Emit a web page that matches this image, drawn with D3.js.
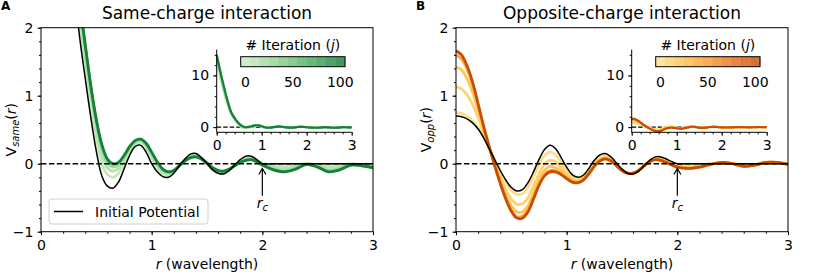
<!DOCTYPE html>
<html>
<head>
<meta charset="utf-8">
<script src="https://cdn.jsdelivr.net/npm/d3@7"></script>
<style>
  body { margin: 0; background: #fff; }
  svg { font-family: "DejaVu Sans", sans-serif; }
</style>
</head>
<body>
<svg id="chart" width="830" height="280"></svg>
<script>
// r in wavelengths, sampled every 0.05 up to r_c and every 0.1 after
const radius = [0,0.05,0.1,0.15,0.2,0.25,0.3,0.35,0.4,0.45,0.5,0.55,0.6,0.65,0.7,0.75,0.8,0.85,0.9,0.95,
  1.0,1.05,1.1,1.15,1.2,1.25,1.3,1.35,1.4,1.45,1.5,1.55,1.6,1.65,1.7,1.75,1.8,1.85,1.9,1.95,
  2.0,2.1,2.2,2.3,2.4,2.5,2.6,2.7,2.8,2.9,3.0];

const iterations = [0, 10, 20, 40, 100];
const colorbarSteps = [0, 10, 20, 30, 40, 50, 60, 70, 80, 90, 100];
const colorbarTicks = [0, 50, 100];

// same-charge potential
const sameInitial = [13.2,11.1,9.1,7.2,5.4,3.8,2.6,1.85,1.25,0.68,0.18,-0.18,-0.33,-0.36,-0.27,-0.08,0.12,0.25,0.27,0.17,
  0.0,-0.12,-0.19,-0.20,-0.14,-0.03,0.07,0.14,0.15,0.09,0.0,-0.09,-0.14,-0.15,-0.10,-0.02,0.06,0.11,0.11,0.06,
  0.0,0,0,0,0,0,0,0,0,0,0];
const sameJ0 = [12.5,10.5,8.7,7.0,5.4,4.0,2.85,2.05,1.42,0.85,0.36,0.0,-0.16,-0.20,-0.14,0.0,0.16,0.27,0.30,0.22,
  0.08,-0.06,-0.15,-0.17,-0.12,-0.03,0.06,0.11,0.13,0.08,0.0,-0.08,-0.13,-0.14,-0.10,-0.03,0.04,0.08,0.09,0.05,
  0.01,-0.02,-0.03,-0.01,0.0,-0.01,-0.03,-0.02,0.0,-0.01,-0.01];
const sameJ10 = [13.2,11.2,9.3,7.5,5.85,4.35,3.1,2.2,1.57,0.99,0.49,0.13,-0.06,-0.11,-0.07,0.05,0.20,0.30,0.33,0.26,
  0.12,-0.02,-0.12,-0.15,-0.11,-0.03,0.05,0.10,0.12,0.075,0.0,-0.07,-0.12,-0.13,-0.09,-0.03,0.03,0.065,0.075,0.04,
  0.0,-0.05,-0.07,-0.04,0.0,-0.03,-0.07,-0.05,-0.01,-0.02,-0.03];
const sameJ20 = [13.6,11.6,9.7,7.9,6.15,4.6,3.26,2.31,1.67,1.08,0.58,0.21,0.01,-0.05,-0.02,0.09,0.23,0.32,0.35,0.28,
  0.15,0.01,-0.10,-0.13,-0.10,-0.03,0.045,0.095,0.11,0.07,0.01,-0.065,-0.11,-0.12,-0.085,-0.03,0.025,0.06,0.07,0.035,
  -0.01,-0.07,-0.10,-0.06,-0.01,-0.04,-0.10,-0.07,-0.015,-0.025,-0.05];
const sameJ40 = [13.9,11.9,9.9,8.1,6.3,4.75,3.36,2.38,1.73,1.13,0.63,0.26,0.05,-0.01,0.01,0.11,0.24,0.34,0.36,0.29,
  0.16,0.02,-0.09,-0.12,-0.10,-0.03,0.04,0.09,0.10,0.07,0.01,-0.06,-0.10,-0.11,-0.08,-0.03,0.02,0.05,0.06,0.03,
  -0.02,-0.085,-0.115,-0.075,-0.01,-0.05,-0.115,-0.085,-0.02,-0.03,-0.055];
const sameJ100 = [14.0,12.0,10.0,8.2,6.4,4.8,3.4,2.4,1.75,1.15,0.65,0.28,0.07,0.0,0.02,0.12,0.25,0.34,0.36,0.30,
  0.17,0.03,-0.08,-0.12,-0.10,-0.03,0.04,0.09,0.10,0.07,0.01,-0.06,-0.10,-0.11,-0.08,-0.03,0.02,0.05,0.06,0.03,
  -0.02,-0.09,-0.12,-0.08,-0.01,-0.05,-0.12,-0.09,-0.02,-0.03,-0.06];

// opposite-charge potential
const oppInitial = [0.70,0.69,0.66,0.60,0.51,0.38,0.22,0.06,-0.10,-0.24,-0.35,-0.40,-0.38,-0.28,-0.12,0.06,0.21,0.27,0.22,0.09,
  -0.05,-0.16,-0.20,-0.17,-0.07,0.05,0.13,0.15,0.10,0.01,-0.08,-0.14,-0.15,-0.11,-0.03,0.05,0.10,0.10,0.07,0.03,
  0.0,0,0,0,0,0,0,0,0,0,0];
const oppJ0 = [0.75,0.74,0.70,0.63,0.53,0.39,0.22,0.05,-0.12,-0.27,-0.39,-0.45,-0.44,-0.35,-0.19,-0.02,0.12,0.17,0.13,0.02,
  -0.10,-0.19,-0.22,-0.18,-0.09,0.02,0.10,0.12,0.08,0.0,-0.09,-0.14,-0.14,-0.10,-0.03,0.04,0.08,0.08,0.05,0.01,
  -0.02,-0.03,-0.02,0.0,0.01,0.0,-0.01,-0.01,0.01,0.01,0.0];
const oppJ10 = [1.13,1.10,1.01,0.87,0.68,0.46,0.23,0.02,-0.19,-0.38,-0.52,-0.60,-0.59,-0.50,-0.33,-0.15,-0.01,0.05,0.03,-0.06,
  -0.15,-0.22,-0.25,-0.21,-0.12,-0.01,0.07,0.10,0.06,-0.01,-0.09,-0.14,-0.14,-0.10,-0.03,0.04,0.07,0.07,0.04,0.0,
  -0.03,-0.05,-0.03,0.0,0.01,0.0,-0.02,-0.01,0.01,0.01,0.0];
const oppJ20 = [1.42,1.38,1.25,1.05,0.79,0.51,0.24,-0.01,-0.25,-0.46,-0.62,-0.71,-0.71,-0.62,-0.43,-0.24,-0.10,-0.04,-0.06,-0.11,
  -0.19,-0.25,-0.26,-0.22,-0.13,-0.02,0.06,0.08,0.05,-0.02,-0.10,-0.14,-0.14,-0.10,-0.03,0.03,0.065,0.06,0.03,-0.01,
  -0.04,-0.06,-0.04,-0.01,0.02,0.0,-0.03,-0.02,0.02,0.02,-0.01];
const oppJ40 = [1.60,1.54,1.39,1.16,0.86,0.54,0.25,-0.02,-0.28,-0.50,-0.68,-0.78,-0.77,-0.68,-0.50,-0.30,-0.16,-0.10,-0.10,-0.15,
  -0.21,-0.26,-0.28,-0.24,-0.15,-0.04,0.04,0.07,0.04,-0.03,-0.10,-0.14,-0.14,-0.10,-0.03,0.03,0.06,0.05,0.02,-0.02,
  -0.05,-0.07,-0.05,-0.01,0.02,0.0,-0.04,-0.02,0.02,0.02,-0.01];
const oppJ100 = [1.66,1.60,1.44,1.20,0.88,0.55,0.25,-0.03,-0.29,-0.52,-0.70,-0.80,-0.80,-0.71,-0.52,-0.32,-0.18,-0.12,-0.12,-0.16,
  -0.22,-0.27,-0.28,-0.24,-0.15,-0.04,0.04,0.07,0.04,-0.03,-0.10,-0.14,-0.14,-0.10,-0.03,0.03,0.06,0.05,0.02,-0.02,
  -0.05,-0.07,-0.05,-0.01,0.02,0.0,-0.04,-0.02,0.02,0.02,-0.01];

const xTicks = [0, 1, 2, 3];
const yTicks = [-1, 0, 1, 2];
const insetYTicks = [0, 10];
const cutoff = 2;

const svg = d3.select("#chart");
const font = "DejaVu Sans";

function drawPanel(cfg) {
  const g = svg.append("g").attr("transform", `translate(${cfg.dx},0)`);

  let x = d3.scaleLinear().domain([0, 3]).range([41, 373]);
  let y = d3.scaleLinear().domain([-1, 2]).range([231.7, 27.7]);

  g.append("clipPath").attr("id", "clip" + cfg.id)
    .append("rect")
      .attr("x", x(0)).attr("y", y(2))
      .attr("width", x(3) - x(0)).attr("height", y(-1) - y(2));

  let line = d3.line()
    .x((d, i) => x(radius[i]))
    .y(d => y(d))
    .curve(d3.curveCatmullRom);

  let plot = g.append("g").attr("clip-path", `url(#clip${cfg.id})`);

  cfg.curves.forEach((vals, k) => {
    plot.append("path")
      .attr("d", line(vals))
      .attr("fill", "none")
      .attr("stroke", cfg.color(iterations[k]))
      .attr("stroke-width", 2.8)
      .attr("stroke-linejoin", "round");
  });

  plot.append("line")
    .attr("x1", x(0)).attr("x2", x(3))
    .attr("y1", y(0)).attr("y2", y(0))
    .attr("stroke", "#000").attr("stroke-width", 1.4)
    .attr("stroke-dasharray", "5.5,2.4");

  plot.append("path")
    .attr("d", line(cfg.initial))
    .attr("fill", "none")
    .attr("stroke", "#000")
    .attr("stroke-width", 1.5);

  // axes
  g.append("g")
    .attr("transform", `translate(0,${y(-1)})`)
    .call(d3.axisBottom(x).tickValues(d3.range(0, 3.01, 0.2)).tickSize(2).tickFormat(""))
    .call(a => a.select(".domain").remove());
  g.append("g")
    .attr("transform", `translate(0,${y(-1)})`)
    .call(d3.axisBottom(x).tickValues(xTicks).tickSize(3.5).tickPadding(4.5).tickFormat(d3.format("d")))
    .attr("font-size", 14).attr("font-family", font)
    .call(a => a.select(".domain").remove());
  g.append("g")
    .attr("transform", `translate(${x(0)},0)`)
    .call(d3.axisLeft(y).tickValues(d3.range(-1, 2.01, 0.2)).tickSize(2).tickFormat(""))
    .call(a => a.select(".domain").remove());
  g.append("g")
    .attr("transform", `translate(${x(0)},0)`)
    .call(d3.axisLeft(y).tickValues(yTicks).tickSize(3.5).tickPadding(4).tickFormat(d3.format("d")))
    .attr("font-size", 14).attr("font-family", font)
    .call(a => a.select(".domain").remove());

  g.append("rect")
    .attr("x", x(0)).attr("y", y(2))
    .attr("width", x(3) - x(0)).attr("height", y(-1) - y(2))
    .attr("fill", "none").attr("stroke", "#000").attr("stroke-width", 1);

  // titles and labels
  g.append("text")
    .attr("x", (x(0) + x(3)) / 2).attr("y", 19)
    .attr("text-anchor", "middle").attr("font-size", 17)
    .text(cfg.title);

  g.append("text")
    .attr("x", 1).attr("y", 10)
    .attr("font-size", 12).attr("font-weight", "bold")
    .text(cfg.letter);

  let xl = g.append("text")
    .attr("x", (x(0) + x(3)) / 2).attr("y", 269)
    .attr("text-anchor", "middle").attr("font-size", 14);
  xl.append("tspan").attr("font-style", "italic").text("r");
  xl.append("tspan").text(" (wavelength)");

  let yl = g.append("text")
    .attr("transform", `translate(16,${(y(-1) + y(2)) / 2}) rotate(-90)`)
    .attr("text-anchor", "middle").attr("font-size", 14);
  yl.append("tspan").text("V");
  yl.append("tspan").attr("font-style", "italic").attr("font-size", 10).attr("dy", 3).text(cfg.sub);
  yl.append("tspan").attr("dy", -3).text("(");
  yl.append("tspan").attr("font-style", "italic").text("r");
  yl.append("tspan").text(")");

  // arrow to r_c
  let ax = x(cutoff), tip = y(-0.07), tail = y(-0.47);
  g.append("line")
    .attr("x1", ax).attr("x2", ax).attr("y1", tail).attr("y2", tip)
    .attr("stroke", "#000").attr("stroke-width", 1.2);
  g.append("path")
    .attr("d", `M${ax - 3.5},${tip + 6}L${ax},${tip}L${ax + 3.5},${tip + 6}`)
    .attr("fill", "none").attr("stroke", "#000").attr("stroke-width", 1.2);
  let rc = g.append("text")
    .attr("x", ax).attr("y", 208)
    .attr("text-anchor", "middle").attr("font-size", 14).attr("font-style", "italic");
  rc.append("tspan").text("r");
  rc.append("tspan").attr("font-size", 10).attr("dy", 3).text("c");

  // inset
  let ix = d3.scaleLinear().domain([0, 3]).range([216.7, 351.7]);
  let iy = d3.scaleLinear().domain([-1, 15]).range([132.3, 49.6]);
  let iline = d3.line()
    .x((d, i) => ix(radius[i]))
    .y(d => iy(d))
    .curve(d3.curveCatmullRom);

  let inset = g.append("g");
  inset.append("line")
    .attr("x1", ix(0)).attr("x2", ix(3))
    .attr("y1", iy(0)).attr("y2", iy(0))
    .attr("stroke", "#000").attr("stroke-width", 1.2)
    .attr("stroke-dasharray", "4.5,2");
  cfg.curves.forEach((vals, k) => {
    inset.append("path")
      .attr("d", iline(vals))
      .attr("fill", "none")
      .attr("stroke", cfg.color(iterations[k]))
      .attr("stroke-width", 2.2)
      .attr("stroke-linejoin", "round");
  });

  inset.append("g")
    .attr("transform", `translate(0,${iy(-1)})`)
    .call(d3.axisBottom(ix).tickValues(d3.range(0, 3.01, 0.2)).tickSize(2).tickFormat(""))
    .call(a => a.select(".domain").remove());
  inset.append("g")
    .attr("transform", `translate(0,${iy(-1)})`)
    .call(d3.axisBottom(ix).tickValues(xTicks).tickSize(3.5).tickPadding(4.5).tickFormat(d3.format("d")))
    .attr("font-size", 14).attr("font-family", font)
    .call(a => a.select(".domain").remove());
  inset.append("g")
    .attr("transform", `translate(${ix(0)},0)`)
    .call(d3.axisLeft(iy).tickValues(d3.range(0, 15, 2)).tickSize(2).tickFormat(""))
    .call(a => a.select(".domain").remove());
  inset.append("g")
    .attr("transform", `translate(${ix(0)},0)`)
    .call(d3.axisLeft(iy).tickValues(insetYTicks).tickSize(3.5).tickPadding(4).tickFormat(d3.format("d")))
    .attr("font-size", 14).attr("font-family", font)
    .call(a => a.select(".domain").remove());
  inset.append("path")
    .attr("d", `M${ix(0)},${iy(15)}V${iy(-1)}H${ix(3)}`)
    .attr("fill", "none").attr("stroke", "#000").attr("stroke-width", 1);

  // colorbar
  let cb = d3.scaleLinear().domain([-5, 105]).range([240.7, 345]);
  inset.selectAll(".cell")
    .data(colorbarSteps)
    .join("rect")
      .attr("x", d => cb(d - 5))
      .attr("width", d => cb(d + 5) - cb(d - 5) + 0.3)
      .attr("y", 56.7).attr("height", 10)
      .attr("fill", d => cfg.color(d))
      .attr("opacity", 0.8);
  inset.append("rect")
    .attr("x", cb(-5)).attr("y", 56.7)
    .attr("width", cb(105) - cb(-5)).attr("height", 10)
    .attr("fill", "none").attr("stroke", "#000").attr("stroke-width", 1);
  inset.selectAll(".cbtick")
    .data(colorbarTicks)
    .join("text")
      .attr("x", d => cb(d)).attr("y", 87)
      .attr("text-anchor", "middle").attr("font-size", 14)
      .text(d => d);
  let ct = inset.append("text")
    .attr("x", cb(50)).attr("y", 49.5)
    .attr("text-anchor", "middle").attr("font-size", 14);
  ct.append("tspan").text("# Iteration (");
  ct.append("tspan").attr("font-style", "italic").text("j");
  ct.append("tspan").text(")");

  // legend
  if (cfg.legend) {
    g.append("rect")
      .attr("x", 49).attr("y", 199).attr("width", 159).attr("height", 25).attr("rx", 3)
      .attr("fill", "#fff").attr("fill-opacity", 0.8)
      .attr("stroke", "#d0d0d0").attr("stroke-width", 1);
    g.append("line")
      .attr("x1", 54).attr("x2", 83).attr("y1", 211.5).attr("y2", 211.5)
      .attr("stroke", "#000").attr("stroke-width", 1.5);
    g.append("text")
      .attr("x", 95).attr("y", 216.5).attr("font-size", 14)
      .text("Initial Potential");
  }
}

const greens = j => d3.interpolateGreens(0.25 + 0.55 * j / 100);
const oranges = j => d3.interpolateYlOrBr(0.27 + 0.48 * j / 100);

drawPanel({
  id: "a", dx: 0, letter: "A", title: "Same-charge interaction", sub: "same",
  initial: sameInitial,
  curves: [sameJ0, sameJ10, sameJ20, sameJ40, sameJ100],
  color: greens, legend: true
});

drawPanel({
  id: "b", dx: 415, letter: "B", title: "Opposite-charge interaction", sub: "opp",
  initial: oppInitial,
  curves: [oppJ0, oppJ10, oppJ20, oppJ40, oppJ100],
  color: oranges, legend: false
});
</script>
</body>
</html>
